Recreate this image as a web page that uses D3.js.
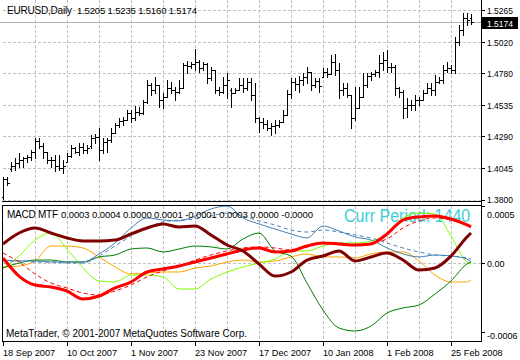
<!DOCTYPE html>
<html><head><meta charset="utf-8">
<script src="https://cdn.jsdelivr.net/npm/d3@7"></script>
<style>
html,body{margin:0;padding:0;background:#fff;}
svg{display:block;font-family:"Liberation Sans",Arial,sans-serif;}
</style></head>
<body><svg id="c" width="520" height="360"></svg>
<script>
// ---------- DATA ----------
const opens = [1.3823,1.3962,1.4039,1.4062,1.4085,1.4108,1.4124,1.4132,1.4170,1.4255,1.4216,1.4170,1.4108,1.4108,1.4062,1.4047,1.4093,1.4139,1.4201,1.4170,1.4209,1.4186,1.4216,1.4278,1.4286,1.4186,1.4247,1.4263,1.4317,1.4378,1.4409,1.4417,1.4471,1.4432,1.4479,1.4471,1.4556,1.4687,1.4648,1.4687,1.4571,1.4594,1.4664,1.4648,1.4633,1.4664,1.4841,1.4833,1.4849,1.4864,1.4818,1.4849,1.4741,1.4802,1.4648,1.4633,1.4687,1.4648,1.4625,1.4648,1.4687,1.4664,1.4710,1.4610,1.4432,1.4401,1.4386,1.4355,1.4371,1.4378,1.4401,1.4455,1.4617,1.4710,1.4694,1.4725,1.4748,1.4787,1.4687,1.4718,1.4748,1.4787,1.4772,1.4864,1.4802,1.4648,1.4664,1.4610,1.4432,1.4509,1.4594,1.4687,1.4756,1.4772,1.4787,1.4856,1.4879,1.4825,1.4825,1.4664,1.4633,1.4509,1.4532,1.4532,1.4571,1.4571,1.4625,1.4664,1.4648,1.4710,1.4725,1.4802,1.4818,1.4802,1.5018,1.5111,1.5203,1.5205];
const highs = [1.3977,1.3977,1.4093,1.4124,1.4162,1.4132,1.4147,1.4186,1.4278,1.4278,1.4240,1.4170,1.4132,1.4147,1.4147,1.4108,1.4162,1.4224,1.4209,1.4240,1.4240,1.4224,1.4301,1.4309,1.4355,1.4278,1.4278,1.4355,1.4394,1.4432,1.4440,1.4494,1.4494,1.4525,1.4517,1.4571,1.4725,1.4702,1.4748,1.4687,1.4625,1.4725,1.4710,1.4671,1.4725,1.4856,1.4872,1.4864,1.4964,1.4879,1.4864,1.4856,1.4825,1.4802,1.4671,1.4748,1.4779,1.4664,1.4664,1.4741,1.4741,1.4741,1.4741,1.4702,1.4440,1.4432,1.4417,1.4394,1.4417,1.4417,1.4494,1.4648,1.4741,1.4741,1.4756,1.4779,1.4825,1.4787,1.4741,1.4741,1.4818,1.4818,1.4918,1.4926,1.4856,1.4702,1.4702,1.4610,1.4671,1.4671,1.4779,1.4779,1.4787,1.4802,1.4918,1.4941,1.4957,1.4856,1.4841,1.4671,1.4648,1.4586,1.4571,1.4610,1.4594,1.4648,1.4702,1.4702,1.4764,1.4748,1.4841,1.4864,1.4841,1.5057,1.5149,1.5242,1.5242,1.5235];
const lows = [1.3808,1.3916,1.4024,1.4031,1.4054,1.4054,1.4093,1.4108,1.4124,1.4201,1.4124,1.4085,1.4054,1.4024,1.4031,1.4008,1.4093,1.4132,1.4162,1.4147,1.4162,1.4162,1.4201,1.4240,1.4108,1.4162,1.4170,1.4247,1.4317,1.4363,1.4378,1.4417,1.4401,1.4417,1.4455,1.4463,1.4548,1.4610,1.4625,1.4517,1.4509,1.4594,1.4625,1.4571,1.4625,1.4664,1.4779,1.4818,1.4802,1.4787,1.4802,1.4702,1.4725,1.4625,1.4610,1.4625,1.4586,1.4517,1.4625,1.4648,1.4633,1.4648,1.4571,1.4401,1.4324,1.4355,1.4340,1.4301,1.4317,1.4363,1.4401,1.4455,1.4586,1.4648,1.4633,1.4687,1.4702,1.4648,1.4671,1.4633,1.4748,1.4748,1.4772,1.4764,1.4586,1.4610,1.4594,1.4355,1.4417,1.4509,1.4594,1.4671,1.4725,1.4756,1.4748,1.4802,1.4787,1.4787,1.4610,1.4594,1.4432,1.4440,1.4494,1.4494,1.4532,1.4571,1.4625,1.4610,1.4610,1.4702,1.4702,1.4787,1.4779,1.4779,1.4995,1.5072,1.5149,1.5160];
const closes = [1.3962,1.3931,1.4062,1.4085,1.4108,1.4124,1.4132,1.4170,1.4255,1.4216,1.4170,1.4108,1.4108,1.4062,1.4047,1.4062,1.4139,1.4201,1.4170,1.4209,1.4186,1.4201,1.4278,1.4286,1.4186,1.4247,1.4263,1.4317,1.4378,1.4409,1.4417,1.4471,1.4432,1.4479,1.4471,1.4556,1.4687,1.4648,1.4687,1.4571,1.4594,1.4664,1.4648,1.4633,1.4664,1.4841,1.4833,1.4849,1.4864,1.4818,1.4849,1.4741,1.4802,1.4648,1.4633,1.4687,1.4725,1.4625,1.4648,1.4687,1.4664,1.4710,1.4610,1.4432,1.4401,1.4386,1.4355,1.4371,1.4378,1.4401,1.4455,1.4617,1.4710,1.4694,1.4725,1.4748,1.4787,1.4687,1.4718,1.4679,1.4787,1.4772,1.4864,1.4802,1.4648,1.4664,1.4610,1.4432,1.4509,1.4594,1.4687,1.4756,1.4772,1.4787,1.4856,1.4879,1.4825,1.4825,1.4664,1.4633,1.4509,1.4532,1.4532,1.4571,1.4571,1.4625,1.4664,1.4648,1.4710,1.4725,1.4802,1.4818,1.4802,1.5018,1.5111,1.5203,1.5188,1.5174];

const priceTicks = [1.5265, 1.5020, 1.4780, 1.4535, 1.4290, 1.4045, 1.3800];
const priceTickLabels = ["1.5265", "1.5020", "1.4780", "1.4535", "1.4290", "1.4045", "1.3800"];
const lastPrice = 1.5174;
const symbolText = "EURUSD,Daily";
const ohlcText = "1.5205 1.5235 1.5160 1.5174";

const dateTickIdx = [0, 16, 32, 48, 64, 80, 96, 112];
const dateTickLabels = ["18 Sep 2007", "10 Oct 2007", "1 Nov 2007", "23 Nov 2007", "17 Dec 2007", "10 Jan 2008", "1 Feb 2008", "25 Feb 2008"];
const gridIdx = [8, 16, 24, 32, 40, 48, 56, 64, 72, 80, 88, 96, 104, 112];

// MACD MTF lines sampled at these bar indices
const macdIdx = [0,4,8,12,16,20,24,28,32,36,40,44,48,52,56,60,64,68,72,76,80,84,88,92,96,100,104,108,112,116,117];
const macdMaroon = [0.000170,0.000265,0.000309,0.000265,0.000222,0.000196,0.000196,0.000204,0.000257,0.000309,0.000344,0.000318,0.000326,0.000248,0.000161,0.000109,-0.000004,-0.000109,-0.000074,0.000030,0.000065,0.000109,0.000022,0.000057,0.000091,0.000030,-0.000057,-0.000039,0.000065,0.000231,0.000265];
const macdRed = [0.000048,-0.000109,-0.000187,-0.000204,-0.000239,-0.000309,-0.000283,-0.000213,-0.000161,-0.000074,-0.000048,-0.000022,0.000013,0.000048,0.000083,0.000117,0.000135,0.000100,0.000109,0.000152,0.000178,0.000170,0.000161,0.000170,0.000257,0.000378,0.000405,0.000413,0.000387,0.000335,0.000318];
const macdRedSignal = [0.000091,0.000013,-0.000091,-0.000170,-0.000213,-0.000257,-0.000274,-0.000239,-0.000187,-0.000117,-0.000065,-0.000022,0.000030,0.000074,0.000109,0.000135,0.000144,0.000135,0.000117,0.000144,0.000178,0.000178,0.000161,0.000178,0.000213,0.000309,0.000370,0.000396,0.000378,0.000335,0.000326];
const macdBlue = [0.000030,0.000022,0.000022,0.000013,0.000013,0.000013,0.000083,0.000178,0.000309,0.000396,0.000378,0.000370,0.000413,0.000474,0.000500,0.000396,0.000344,0.000300,0.000257,0.000222,0.000326,0.000283,0.000231,0.000204,0.000135,0.000083,0.000057,0.000074,0.000065,0.000039,0.000013];
const macdBlueSignal = [0.000022,0.000022,0.000013,0.000013,0.000004,0.000004,0.000065,0.000152,0.000239,0.000309,0.000361,0.000378,0.000387,0.000413,0.000439,0.000413,0.000370,0.000335,0.000291,0.000274,0.000291,0.000274,0.000248,0.000222,0.000178,0.000135,0.000100,0.000074,0.000065,0.000048,0.000039];
const macdGreen = [-0.000039,0.000004,0.000030,0.000030,0.000013,0.000013,0.000057,0.000074,0.000126,0.000135,0.000100,0.000126,0.000152,0.000144,0.000126,0.000213,0.000265,0.000109,0.000065,-0.000170,-0.000405,-0.000561,-0.000587,-0.000544,-0.000431,-0.000387,-0.000361,-0.000265,-0.000152,-0.000004,0.000013];
const macdLime = [-0.000039,0.000065,0.000204,0.000265,0.000126,-0.000039,-0.000152,-0.000161,-0.000100,-0.000100,-0.000117,-0.000222,-0.000222,-0.000135,-0.000074,-0.000030,0.000004,0.000039,0.000109,0.000109,0.000152,0.000178,0.000178,0.000196,0.000257,0.000396,0.000439,0.000431,0.000239,0.000013,-0.000004];
const macdOrange = [-0.000030,-0.000022,0.000022,0.000152,0.000152,0.000135,0.000057,-0.000030,-0.000091,-0.000083,-0.000074,-0.000074,-0.000039,-0.000022,0.000013,0.000030,0.000013,0.000022,0.000057,0.000083,0.000057,0.000057,0.000048,0.000083,0.000100,0.000100,0.000022,-0.000100,-0.000161,-0.000161,-0.000143];

const macdTicks = [0.0005, 0.0, -0.0006];
const macdTickLabels = ["0.0005", "0.00", "-0.0006"];
const macdName = "MACD MTF";
const macdValuesText = "0.0003 0.0004 0.0000 0.0001 -0.0001 0.0003 0.0000 -0.0000";
const periodText = "Curr Period: 1440";
const copyright = "MetaTrader, \u00a9 2001-2007 MetaQuotes Software Corp.";

// ---------- DRAW ----------
const svg = d3.select("#c");
const axisX = 481;
const x = d3.scaleLinear().domain([0, 117]).range([3, 471]);
const yP = d3.scaleLinear().domain([1.3800, 1.5265]).range([200, 10]);
const yM = d3.scaleLinear().domain([-0.000674, 0.0005]).range([341, 206]);
const grid = "#c0c0c0";

// main panel grid
const gMain = svg.append("g");
gMain.selectAll("line.hg").data(priceTicks).enter().append("line")
  .attr("x1", 3).attr("x2", axisX).attr("y1", d => Math.round(yP(d)) + 0.5).attr("y2", d => Math.round(yP(d)) + 0.5)
  .attr("stroke", grid).attr("stroke-dasharray", "3,2");
gMain.selectAll("line.vg").data(gridIdx).enter().append("line")
  .attr("x1", d => x(d) + 0.5).attr("x2", d => x(d) + 0.5).attr("y1", 0).attr("y2", 201)
  .attr("stroke", grid).attr("stroke-dasharray", "3,2");
// last price line
gMain.append("line").attr("x1", 0).attr("x2", axisX).attr("y1", Math.round(yP(lastPrice)) + 0.5).attr("y2", Math.round(yP(lastPrice)) + 0.5)
  .attr("stroke", "#b4b4b4");

// OHLC bars
const bars = gMain.append("g").attr("stroke", "#000").attr("shape-rendering", "crispEdges");
closes.forEach((c, i) => {
  const xi = x(i) + 0.5;
  bars.append("line").attr("x1", xi).attr("x2", xi).attr("y1", yP(highs[i])).attr("y2", yP(lows[i]) + 1);
  bars.append("line").attr("x1", xi - 2).attr("x2", xi).attr("y1", Math.round(yP(opens[i])) + 0.5).attr("y2", Math.round(yP(opens[i])) + 0.5);
  bars.append("line").attr("x1", xi).attr("x2", xi + 2).attr("y1", Math.round(yP(c)) + 0.5).attr("y2", Math.round(yP(c)) + 0.5);
});

// MACD panel grid
const gM = svg.append("g");
gM.selectAll("line.vg").data(gridIdx).enter().append("line")
  .attr("x1", d => x(d) + 0.5).attr("x2", d => x(d) + 0.5).attr("y1", 206).attr("y2", 341)
  .attr("stroke", grid).attr("stroke-dasharray", "3,2");
gM.append("line").attr("x1", 3).attr("x2", axisX).attr("y1", Math.round(yM(0)) + 0.5).attr("y2", Math.round(yM(0)) + 0.5)
  .attr("stroke", grid).attr("stroke-dasharray", "3,2");

// text behind lines
svg.append("text").attr("transform", "translate(344,222) scale(1,1.18)")
  .attr("font-size", 16).attr("fill", "#3ccfd8").text(periodText);

const line = arr => d3.line().x((d, k) => x(macdIdx[k])).y(d => yM(d)).curve(d3.curveMonotoneX)(arr);
const series = [
  {v: macdOrange, c: "#ffa500", w: 1},
  {v: macdLime, c: "#7fff00", w: 1},
  {v: macdGreen, c: "#008000", w: 1},
  {v: macdBlueSignal, c: "#4682b4", w: 1, dash: "4,3"},
  {v: macdBlue, c: "#4682b4", w: 1},
  {v: macdRedSignal, c: "#ff0000", w: 1, dash: "4,3"},
  {v: macdRed, c: "#ff0000", w: 3},
  {v: macdMaroon, c: "#800000", w: 3},
];
svg.append("clipPath").attr("id", "mclip").append("rect").attr("x", 3).attr("y", 206).attr("width", axisX - 3).attr("height", 135);
const gL = svg.append("g").attr("clip-path", "url(#mclip)");
series.forEach(s => {
  gL.append("path").attr("d", line(s.v)).attr("fill", "none").attr("stroke", s.c)
    .attr("stroke-width", s.w).attr("stroke-dasharray", s.dash || null).attr("stroke-linejoin", "round");
});

// frames
const fr = svg.append("g").attr("stroke", "#000").attr("shape-rendering", "crispEdges").attr("fill", "none");
fr.append("line").attr("x1", axisX + 0.5).attr("x2", axisX + 0.5).attr("y1", 0).attr("y2", 342);
fr.append("line").attr("x1", 2).attr("x2", axisX).attr("y1", 201.5).attr("y2", 201.5);
fr.append("line").attr("x1", 2).attr("x2", axisX).attr("y1", 205.5).attr("y2", 205.5);
fr.append("line").attr("x1", 2).attr("x2", axisX + 1).attr("y1", 341.5).attr("y2", 341.5);
fr.append("line").attr("x1", 2.5).attr("x2", 2.5).attr("y1", 205).attr("y2", 342);

// price axis
const pa = svg.append("g").attr("font-size", 9.5).attr("fill", "#000");
priceTicks.forEach((p, k) => {
  const yy = Math.round(yP(p)) + 0.5;
  pa.append("line").attr("x1", axisX).attr("x2", axisX + 4).attr("y1", yy).attr("y2", yy).attr("stroke", "#000");
  pa.append("text").attr("x", 487).attr("y", k === priceTicks.length - 1 ? yy + 2 : yy + 3)
    .attr("textLength", 26).attr("lengthAdjust", "spacingAndGlyphs").text(priceTickLabels[k]);
});
const ly = Math.round(yP(lastPrice));
pa.append("rect").attr("x", axisX + 1).attr("y", ly - 5).attr("width", 36).attr("height", 12).attr("fill", "#000");
pa.append("text").attr("x", 487).attr("y", ly + 4.5).attr("fill", "#fff").attr("textLength", 26).attr("lengthAdjust", "spacingAndGlyphs").text(d3.format(".4f")(lastPrice));

// MACD axis
const ma = svg.append("g").attr("font-size", 9).attr("fill", "#000");
macdTicks.forEach((v, k) => {
  const yy = Math.round(yM(v)) + 0.5;
  const ty = k === 0 ? 218 : (k === 2 ? 339 : yy + 3.5);
  ma.append("line").attr("x1", axisX).attr("x2", axisX + 4).attr("y1", yy).attr("y2", yy).attr("stroke", "#000");
  ma.append("text").attr("x", 487).attr("y", ty).text(macdTickLabels[k]);
});

// date axis
const ga = svg.append("g").attr("font-size", 9.2).attr("fill", "#000");
dateTickIdx.forEach((d, k) => {
  const xx = x(d) + 0.5;
  ga.append("line").attr("x1", xx).attr("x2", xx).attr("y1", 342).attr("y2", 346).attr("stroke", "#000");
  ga.append("text").attr("x", x(d)).attr("y", 356).text(dateTickLabels[k]);
});

// titles
svg.append("text").attr("x", 7).attr("y", 14).attr("font-size", 10).attr("fill", "#000").attr("textLength", 65).text(symbolText);
svg.append("text").attr("x", 77).attr("y", 14).attr("font-size", 9.5).attr("fill", "#000").attr("textLength", 120).text(ohlcText);
svg.append("text").attr("x", 7).attr("y", 218).attr("font-size", 10).attr("fill", "#000").attr("textLength", 51).text(macdName);
svg.append("text").attr("x", 61).attr("y", 218).attr("font-size", 9.5).attr("fill", "#000").attr("textLength", 252).text(macdValuesText);
svg.append("text").attr("x", 6).attr("y", 337).attr("font-size", 10).attr("fill", "#000").text(copyright);
</script></body></html>
